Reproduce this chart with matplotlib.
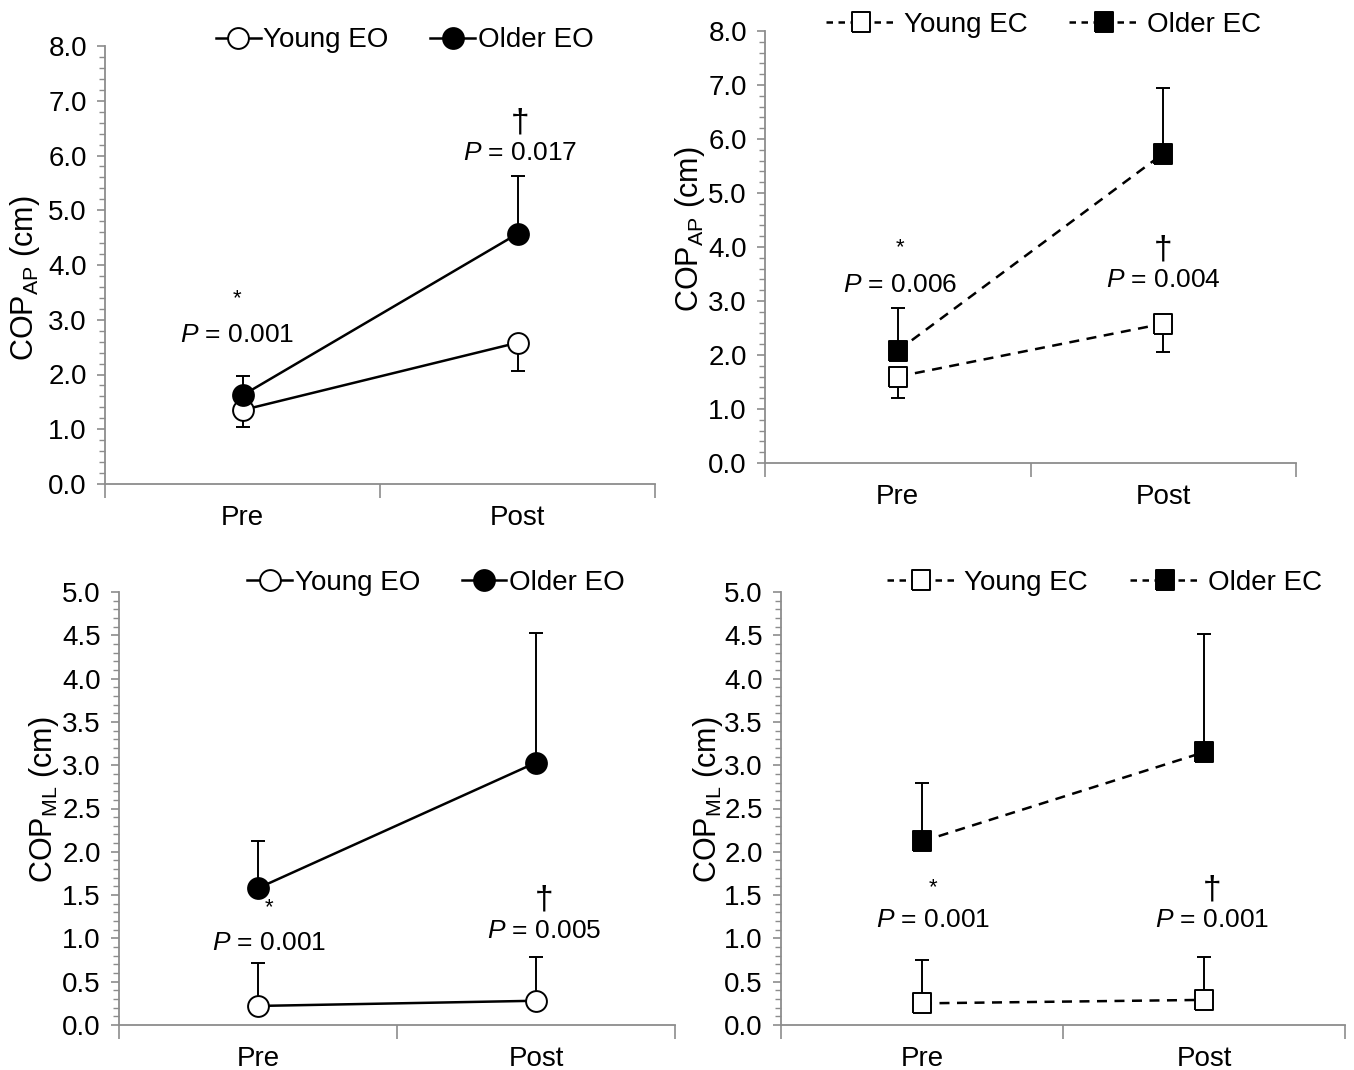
import matplotlib
matplotlib.use("Agg")
import matplotlib.pyplot as plt
from matplotlib import font_manager
from matplotlib.ticker import MultipleLocator, FixedLocator, NullFormatter
from matplotlib.lines import Line2D

try:
    font_manager.findfont('Liberation Sans Narrow', fallback_to_default=False)
    NARROW = True
except Exception:
    NARROW = False

if NARROW:
    TXT = ['Liberation Sans Narrow', 'Liberation Sans', 'DejaVu Sans']
    FS_TICK, FS_LEG, FS_P, FS_LAB = 22, 23, 24, 22
else:
    TXT = ['Liberation Sans', 'DejaVu Sans']
    FS_TICK, FS_LEG, FS_P, FS_LAB = 20, 20, 19, 22

plt.rcParams['font.family'] = TXT
plt.rcParams['mathtext.fontset'] = 'custom'
plt.rcParams['mathtext.rm'] = 'Liberation Sans'
plt.rcParams['mathtext.it'] = 'Liberation Sans:italic'

categories = ["Pre", "Post"]

# Panel A: COP_AP, eyes open
ap_young_eo = [1.35, 2.58]
ap_young_eo_err = [0.30, 0.51]   # drawn downward
ap_older_eo = [1.62, 4.57]
ap_older_eo_err = [0.35, 1.05]   # drawn upward

# Panel B: COP_AP, eyes closed
ap_young_ec = [1.60, 2.58]
ap_young_ec_err = [0.40, 0.52]   # downward
ap_older_ec = [2.08, 5.73]
ap_older_ec_err = [0.79, 1.22]   # upward

# Panel C: COP_ML, eyes open
ml_young_eo = [0.22, 0.28]
ml_young_eo_err = [0.50, 0.50]   # upward
ml_older_eo = [1.58, 3.03]
ml_older_eo_err = [0.54, 1.50]   # upward

# Panel D: COP_ML, eyes closed
ml_young_ec = [0.25, 0.29]
ml_young_ec_err = [0.50, 0.50]   # upward
ml_older_ec = [2.12, 3.15]
ml_older_ec_err = [0.68, 1.37]   # upward

W, H = 1354, 1070
fig = plt.figure(figsize=(W / 100, H / 100), dpi=100)

def rect(x0, y0, x1, y1):
    return [x0 / W, 1 - y1 / H, (x1 - x0) / W, (y1 - y0) / H]

GRAY = '#8c8c8c'
xs = [0.5, 1.5]
DASH = (4, 3)
SQUARE = [(-1, -1.18), (1, -1.18), (1, 1.18), (-1, 1.18), (-1, -1.18)]

def setup(ax, ymax, major, minor, ylab):
    ax.set_xlim(0, 2)
    ax.set_ylim(0, ymax)
    for s in ['top', 'right']:
        ax.spines[s].set_visible(False)
    for s in ['left', 'bottom']:
        ax.spines[s].set_color(GRAY)
        ax.spines[s].set_linewidth(1.3)
    ax.yaxis.set_major_locator(MultipleLocator(major))
    ax.yaxis.set_minor_locator(MultipleLocator(minor))
    ax.yaxis.set_major_formatter(matplotlib.ticker.FormatStrFormatter('%.1f'))
    ax.tick_params(axis='y', which='major', direction='out', length=6, width=1.2,
                   color=GRAY, labelsize=FS_TICK, pad=7)
    ax.tick_params(axis='y', which='minor', direction='out', length=4.5, width=1.0,
                   color=GRAY)
    ax.xaxis.set_major_locator(FixedLocator([0, 1, 2]))
    ax.xaxis.set_major_formatter(NullFormatter())
    ax.xaxis.set_minor_locator(FixedLocator(xs))
    ax.set_xticklabels(categories, minor=True)
    ax.tick_params(axis='x', which='major', direction='out', length=10, width=1.2, color=GRAY)
    ax.tick_params(axis='x', which='minor', length=0, labelsize=FS_TICK, pad=15)
    ax.set_ylabel(ylab, fontsize=FS_LAB, family=['Liberation Sans', 'DejaVu Sans'])

def draw(ax, young, yerr, ydown, older, oerr, dashed, marker, ms):
    ye = [yerr, [0, 0]] if ydown else [[0, 0], yerr]
    kw = dict(fmt='none', ecolor='black', elinewidth=1.4, capsize=5, capthick=1.4, zorder=2)
    ax.errorbar(xs, young, yerr=ye, **kw)
    ax.errorbar(xs, older, yerr=[[0, 0], oerr], **kw)
    for vals, fc, z in [(young, 'white', 3), (older, 'black', 4)]:
        ln, = ax.plot(xs, vals, color='black', lw=1.8, marker=marker, ms=ms,
                      mfc=fc, mec='black', mew=1.4, zorder=z)
        if dashed:
            ln.set_dashes(DASH)

def legend(ax, x, y, dashed, marker, ms, labels):
    handles = []
    for c in ['white', 'black']:
        h = Line2D([], [], color='black', lw=1.8, marker=marker, ms=ms,
                   mfc=c, mec='black', mew=1.4)
        if dashed:
            h.set_dashes((2.6, 2.2))
        handles.append(h)
    ax.legend(handles, labels, loc='center', bbox_to_anchor=(x, y), ncol=2,
              frameon=False, fontsize=FS_LEG, handlelength=2.5 if dashed else 1.6,
              handletextpad=0.3 if dashed else 0.1, columnspacing=1.5, borderaxespad=0,
              borderpad=0)

def note(ax, x, y_sym, sym, y_p, ptext, symsize):
    ax.text(x, y_sym, sym, ha='center', va='center', fontsize=symsize)
    ax.text(x, y_p, r'$\it{P}$ = ' + ptext, ha='center', va='center', fontsize=FS_P)

# Panel A
ax1 = fig.add_axes(rect(105, 46, 655, 484))
setup(ax1, 8, 1, 0.2, r'COP$_{\mathrm{AP}}$ (cm)')
draw(ax1, ap_young_eo, ap_young_eo_err, True, ap_older_eo, ap_older_eo_err, False, 'o', 15)
legend(ax1, 0.545, 1.013, False, 'o', 15, ['Young EO', 'Older EO'])
note(ax1, 0.48, 3.39, '*', 2.73, '0.001', 16)
note(ax1, 1.51, 6.6, '†', 6.05, '0.017', 24)
ax1.yaxis.set_label_coords(-0.114, 0.47)

# Panel B
ax2 = fig.add_axes(rect(765, 31, 1296, 463))
setup(ax2, 8, 1, 0.2, r'COP$_{\mathrm{AP}}$ (cm)')
draw(ax2, ap_young_ec, ap_young_ec_err, True, ap_older_ec, ap_older_ec_err, True, SQUARE, 15)
legend(ax2, 0.525, 1.014, True, SQUARE, 15, ['Young EC', 'Older EC'])
note(ax2, 0.51, 3.98, '*', 3.3, '0.006', 16)
note(ax2, 1.5, 3.95, '†', 3.39, '0.004', 24)
ax2.yaxis.set_label_coords(-0.11, 0.54)

# Panel C
ax3 = fig.add_axes(rect(119, 592, 675, 1025))
setup(ax3, 5, 0.5, 0.1, r'COP$_{\mathrm{ML}}$ (cm)')
draw(ax3, ml_young_eo, ml_young_eo_err, False, ml_older_eo, ml_older_eo_err, False, 'o', 15)
legend(ax3, 0.57, 1.021, False, 'o', 15, ['Young EO', 'Older EO'])
note(ax3, 0.54, 1.35, '*', 0.95, '0.001', 16)
note(ax3, 1.53, 1.44, '†', 1.09, '0.005', 24)
ax3.yaxis.set_label_coords(-0.105, 0.52)

# Panel D
ax4 = fig.add_axes(rect(781, 592, 1345, 1025))
setup(ax4, 5, 0.5, 0.1, r'COP$_{\mathrm{ML}}$ (cm)')
draw(ax4, ml_young_ec, ml_young_ec_err, False, ml_older_ec, ml_older_ec_err, True, SQUARE, 15)
legend(ax4, 0.573, 1.021, True, SQUARE, 15, ['Young EC', 'Older EC'])
note(ax4, 0.54, 1.58, '*', 1.21, '0.001', 16)
note(ax4, 1.53, 1.56, '†', 1.21, '0.001', 24)
ax4.yaxis.set_label_coords(-0.1, 0.52)

fig.savefig('out.png', dpi=100)
